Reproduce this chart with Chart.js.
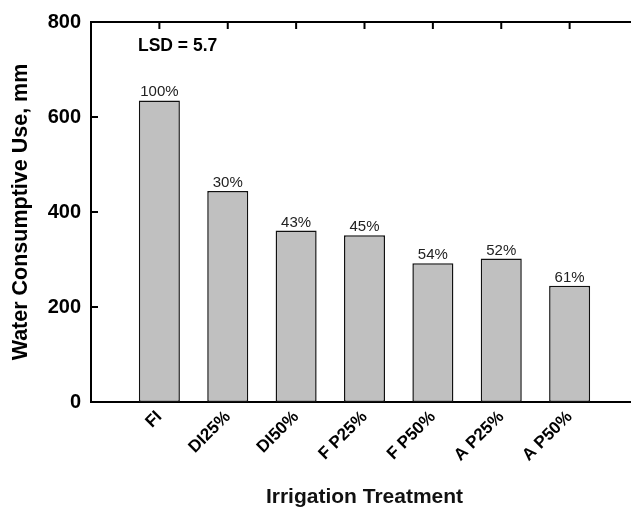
<!DOCTYPE html>
<html>
<head>
<meta charset="utf-8">
<script src="https://cdn.jsdelivr.net/npm/chart.js@4/dist/chart.umd.min.js"></script>
<style>
  html, body { margin: 0; padding: 0; overflow: hidden; background: #fff; width: 631px; height: 508px; }
  #wrap { width: 640px; height: 508px; }
</style>
</head>
<body>
<div id="wrap"><canvas id="c" width="640" height="508"></canvas></div>
<script>
const categories = ['FI', 'DI25%', 'DI50%', 'F P25%', 'F P50%', 'A P25%', 'A P50%'];
const waterUse = [635, 444, 361, 351, 292, 302, 245];
const percentLabels = ['100%', '30%', '43%', '45%', '54%', '52%', '61%'];
const yTicks = [0, 200, 400, 600, 800];
const lsdText = 'LSD = 5.7';
const xTitle = 'Irrigation Treatment';
const yTitle = 'Water Consumptive Use, mm';

const FONT = "'Liberation Sans', Arial, sans-serif";
const points = categories.map((c, i) => ({ x: i + 1, y: waterUse[i] }));

const framePlugin = {
  id: 'frame',
  afterDraw(chart) {
    const { ctx, chartArea: a, scales } = chart;
    const xs = scales.x, ys = scales.y;
    ctx.save();
    ctx.strokeStyle = '#000';
    ctx.lineWidth = 2;
    ctx.beginPath();
    ctx.moveTo(a.left, a.top); ctx.lineTo(a.right, a.top);
    ctx.moveTo(a.right, a.top); ctx.lineTo(a.right, a.bottom);
    categories.forEach((c, i) => {
      const px = xs.getPixelForValue(i + 1);
      ctx.moveTo(px, a.top); ctx.lineTo(px, a.top + 7);
    });
    yTicks.forEach(v => {
      if (v === 0 || v === 800) return;
      const py = ys.getPixelForValue(v);
      ctx.moveTo(a.left, py); ctx.lineTo(a.left + 7, py);
      ctx.moveTo(a.right, py); ctx.lineTo(a.right - 7, py);
    });
    ctx.stroke();

    ctx.fillStyle = '#222';
    ctx.font = '15px ' + FONT;
    ctx.textAlign = 'center';
    ctx.textBaseline = 'alphabetic';
    const meta = chart.getDatasetMeta(0);
    meta.data.forEach((bar, i) => {
      ctx.fillText(percentLabels[i], bar.x, bar.y - 4);
    });

    ctx.fillStyle = '#000';
    ctx.font = 'bold 17.5px ' + FONT;
    ctx.textAlign = 'left';
    ctx.textBaseline = 'middle';
    ctx.fillText(lsdText, 138, 46);
    ctx.restore();
  }
};

new Chart(document.getElementById('c'), {
  type: 'bar',
  data: {
    datasets: [{
      data: points,
      backgroundColor: '#c0c0c0',
      borderColor: '#111',
      borderWidth: 1.5,
      borderSkipped: false,
      barPercentage: 0.6,
      categoryPercentage: 1.0
    }]
  },
  options: {
    responsive: false,
    animation: false,
    layout: { padding: { left: 0, top: 18, right: 2, bottom: 0 } },
    plugins: { legend: { display: false }, tooltip: { enabled: false } },
    scales: {
      x: {
        type: 'linear',
        offset: false,
        min: 0, max: 8,
        afterBuildTicks(scale) { scale.ticks = categories.map((c, i) => ({ value: i + 1 })); },
        afterFit(scale) { scale.height = 106; },
        grid: { display: false, drawTicks: false, offset: false },
        border: { display: true, color: '#000', width: 2 },
        ticks: {
          autoSkip: false,
          minRotation: 45, maxRotation: 45,
          padding: 5,
          color: '#000',
          font: { family: FONT, size: 17, weight: 'bold' },
          callback: (v) => categories[v - 1] || ''
        },
        title: {
          display: true, text: xTitle, color: '#111',
          font: { family: FONT, size: 21, weight: 'bold', lineHeight: 1 },
          padding: { top: 0, bottom: 0 }
        }
      },
      y: {
        min: 0, max: 800,
        afterBuildTicks(scale) { scale.ticks = yTicks.map(v => ({ value: v })); },
        afterFit(scale) { scale.width = 91; },
        grid: { display: false, drawTicks: false },
        border: { display: true, color: '#000', width: 2 },
        ticks: {
          padding: 10,
          color: '#000',
          font: { family: FONT, size: 20, weight: 'bold' }
        },
        title: {
          display: true, text: yTitle, color: '#000',
          font: { family: FONT, size: 21.5, weight: 'bold' },
          padding: { top: 8, bottom: 0 }
        }
      }
    }
  },
  plugins: [framePlugin]
});
</script>
</body>
</html>
